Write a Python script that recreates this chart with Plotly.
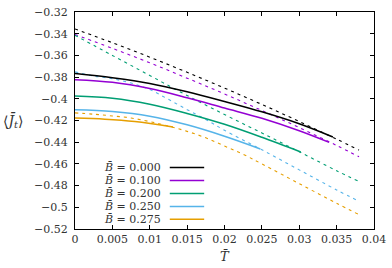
import plotly.graph_objects as go

# ---------------- data ----------------
labels = ["0.000", "0.100", "0.200", "0.250", "0.275"]
colors = ["#000000", "#9400d3", "#009e73", "#56b4e9", "#e69f00"]

# solid curves
T_s0 = [0, 0.005, 0.01, 0.015, 0.02, 0.025, 0.03, 0.0345]
J_s0 = [-0.3767, -0.3806, -0.3858, -0.3935, -0.4025, -0.4120, -0.4230, -0.4352]
T_s1 = [0, 0.005, 0.01, 0.015, 0.02, 0.025, 0.03, 0.034]
J_s1 = [-0.3824, -0.3848, -0.3905, -0.3990, -0.4085, -0.4180, -0.4295, -0.4402]
T_s2 = [0, 0.005, 0.01, 0.015, 0.02, 0.025, 0.0302]
J_s2 = [-0.3975, -0.3995, -0.4050, -0.4135, -0.4235, -0.4355, -0.4490]
T_s3 = [0, 0.005, 0.01, 0.015, 0.02, 0.0248]
J_s3 = [-0.4102, -0.4117, -0.4160, -0.4240, -0.4345, -0.4462]
T_s4 = [0, 0.004, 0.008, 0.0131]
J_s4 = [-0.4178, -0.4188, -0.4210, -0.4260]

# dashed curves
T_d0 = [0, 0.005, 0.01, 0.015, 0.02, 0.025, 0.03, 0.035, 0.038]
J_d0 = [-0.3356, -0.3483, -0.3616, -0.3756, -0.3901, -0.4052, -0.4209, -0.4372, -0.4473]
T_d1 = [0, 0.005, 0.01, 0.015, 0.02, 0.025, 0.03, 0.035, 0.038]
J_d1 = [-0.3407, -0.3535, -0.3668, -0.3810, -0.3955, -0.4108, -0.4265, -0.4430, -0.4535]
T_d2 = [0, 0.005, 0.01, 0.015, 0.02, 0.025, 0.03, 0.035, 0.038]
J_d2 = [-0.3415, -0.3600, -0.3785, -0.3970, -0.4145, -0.4315, -0.4488, -0.4663, -0.4762]
T_d3 = [0, 0.0025, 0.005, 0.0075, 0.01, 0.0125, 0.015, 0.0175, 0.02, 0.025, 0.03, 0.035, 0.038]
J_d3 = [-0.3752, -0.3790, -0.3815, -0.3855, -0.3915, -0.4005, -0.4100, -0.4190, -0.4290,
        -0.4470, -0.4655, -0.4840, -0.4945]
T_d4 = [0, 0.0025, 0.005, 0.0075, 0.01, 0.0125, 0.015, 0.0175, 0.02, 0.0225, 0.025, 0.03, 0.035, 0.038]
J_d4 = [-0.4130, -0.4142, -0.4158, -0.4177, -0.4210, -0.4252, -0.4300, -0.4360, -0.4435,
        -0.4512, -0.4600, -0.4782, -0.4963, -0.5068]

x_tickvals = [0, 0.005, 0.01, 0.015, 0.02, 0.025, 0.03, 0.035, 0.04]
x_ticktext = ["0", "0.005", "0.01", "0.015", "0.02", "0.025", "0.03", "0.035", "0.04"]
y_tickvals = [-0.52, -0.5, -0.48, -0.46, -0.44, -0.42, -0.4, -0.38, -0.36, -0.34, -0.32]
y_ticktext = ["\u22120.52", "\u22120.5", "\u22120.48", "\u22120.46", "\u22120.44", "\u22120.42",
              "\u22120.4", "\u22120.38", "\u22120.36", "\u22120.34", "\u22120.32"]

solid = [(T_s0, J_s0), (T_s1, J_s1), (T_s2, J_s2), (T_s3, J_s3), (T_s4, J_s4)]
dashed = [(T_d0, J_d0), (T_d1, J_d1), (T_d2, J_d2), (T_d3, J_d3), (T_d4, J_d4)]

FONT = "DejaVu Serif"
TXT = "#333333"
fig = go.Figure()

for (t, j), c in zip(dashed, colors):
    fig.add_trace(go.Scatter(x=t, y=j, mode="lines", line=dict(color=c, width=1.1, dash="3px,4px"),
                             showlegend=False, line_shape="spline"))
for (t, j), c in zip(solid, colors):
    fig.add_trace(go.Scatter(x=t, y=j, mode="lines", line=dict(color=c, width=1.5),
                             showlegend=False, line_shape="spline"))

axis_common = dict(showline=True, linecolor="#000000", linewidth=1, mirror="allticks",
                   ticks="inside", ticklen=4, tickwidth=1, tickcolor="#000000",
                   showgrid=False, zeroline=False, ticklabeloverflow="allow",
                   tickfont=dict(family=FONT, size=11, color=TXT))

fig.update_layout(
    width=392, height=268,
    margin=dict(l=75, r=12, t=6, b=39),
    paper_bgcolor="white", plot_bgcolor="white",
    xaxis=dict(range=[0, 0.04], tickvals=x_tickvals, ticktext=x_ticktext, **axis_common),
    yaxis=dict(range=[-0.52, -0.32], tickvals=y_tickvals, ticktext=y_ticktext,
               ticklabelstandoff=4, **axis_common),
    showlegend=False,
)

# axis titles
fig.add_annotation(xref="paper", yref="paper", x=-0.207, y=0.5, xanchor="center", yanchor="middle",
                   text="\u27e8<i>J\u0304</i><sub><i>t</i></sub>\u27e9", showarrow=False,
                   font=dict(family=FONT, size=14, color=TXT))
fig.add_annotation(xref="paper", yref="paper", x=0.5, y=-0.127, xanchor="center", yanchor="middle",
                   text="<i>T\u0304</i>", showarrow=False,
                   font=dict(family=FONT, size=13, color=TXT))

# key (text on the left, sample line on the right)
rows_y = [0.2835, 0.224, 0.164, 0.104, 0.045]
for lab, c, yy in zip(labels, colors, rows_y):
    fig.add_annotation(xref="paper", yref="paper", x=0.2895, y=yy, xanchor="right", yanchor="middle",
                       text="<i>B\u0304</i> = " + lab, showarrow=False, borderpad=0,
                       font=dict(family=FONT, size=11, color=TXT))
    fig.add_shape(type="line", xref="paper", yref="paper", x0=0.317, x1=0.432, y0=yy, y1=yy,
                  line=dict(color=c, width=1.5))

fig.write_html("out.html", config={"displayModeBar": False},
               post_script="document.body.style.margin='0';")
